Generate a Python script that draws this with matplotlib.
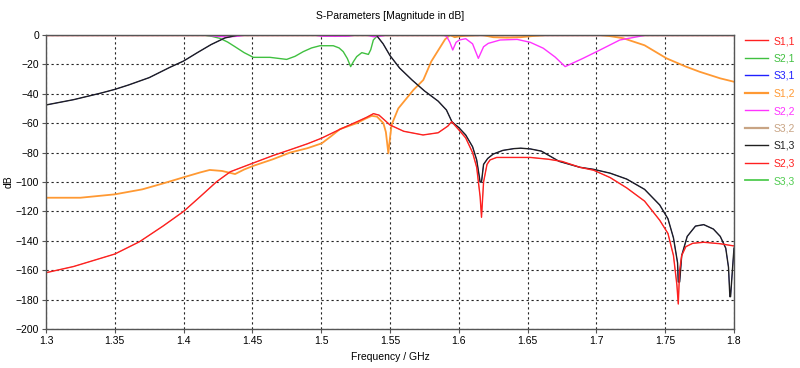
import matplotlib
matplotlib.use("Agg")
import matplotlib.pyplot as plt

plt.rcParams['font.family'] = ['Liberation Sans', 'DejaVu Sans']

# ---------------- data ----------------
title = "S-Parameters [Magnitude in dB]"
x_label = "Frequency / GHz"
y_label = "dB"
x_ticks = [1.3, 1.35, 1.4, 1.45, 1.5, 1.55, 1.6, 1.65, 1.7, 1.75, 1.8]
x_tick_labels = ["1.3", "1.35", "1.4", "1.45", "1.5", "1.55", "1.6", "1.65", "1.7", "1.75", "1.8"]
y_ticks = [0, -20, -40, -60, -80, -100, -120, -140, -160, -180, -200]

s11_f = [1.30, 1.80]
s11_db = [0, 0]

s21_f = [1.30, 1.41, 1.4143, 1.42, 1.4265, 1.432, 1.4374, 1.444, 1.4507, 1.4628, 1.4749,
         1.481, 1.487, 1.493, 1.4991, 1.5088, 1.513, 1.516, 1.519, 1.5214, 1.5235, 1.5258,
         1.5295, 1.5343, 1.536, 1.5379, 1.5405, 1.5427, 1.80]
s21_db = [0, 0, 0, -0.8, -2.3, -4.8, -8, -12, -15.2, -15.2, -16.6,
          -14.5, -11.3, -8.8, -7.3, -7.3, -8.8, -11.3, -16, -21.5, -18, -14.7,
          -12, -13.2, -10, -3.4, -0.8, 0, 0]

s12_f = [1.30, 1.325, 1.35, 1.37, 1.385, 1.40, 1.412, 1.419, 1.428, 1.4374, 1.444, 1.4507,
         1.465, 1.4773, 1.49, 1.5004, 1.507, 1.5137, 1.5258, 1.532, 1.5367, 1.5405, 1.5452,
         1.547, 1.5488, 1.5500, 1.5512, 1.556, 1.567, 1.5742, 1.58, 1.586, 1.59, 1.5936,
         1.597, 1.600, 1.605, 1.617, 1.625, 1.635, 1.645, 1.655, 1.664, 1.70, 1.7026, 1.71,
         1.7195, 1.735, 1.751, 1.765, 1.775, 1.79, 1.80]
s12_db = [-110.7, -110.7, -108.4, -105, -101, -96.8, -93.5, -91.8, -92.5, -94.6, -91.5, -89,
          -84.5, -80, -77, -73.7, -69, -64, -60, -57, -55, -55.5, -60,
          -66, -80.5, -70, -61, -50, -37.4, -30.6, -18, -9, -3, 0,
          -1.5, -1, -0.5, 0, -1.5, -1.8, -1.5, -0.6, 0, 0, 0, -0.8,
          -2.2, -7, -15.9, -21.5, -25, -29.5, -31.8]

s22_f = [1.30, 1.415, 1.425, 1.432, 1.44, 1.445, 1.495, 1.50, 1.51, 1.52, 1.525, 1.533,
         1.538, 1.543, 1.548, 1.5885, 1.5912, 1.5935, 1.5956, 1.598, 1.6004, 1.605, 1.61,
         1.6142, 1.618, 1.6214, 1.63, 1.6424, 1.652, 1.6614, 1.670, 1.6773, 1.69, 1.7026,
         1.717, 1.7366, 1.80]
s22_db = [0, 0, -1, -1.3, -0.8, 0, 0, -0.8, -0.9, -0.8, 0, 0,
          -1.2, -0.8, 0, 0, -1, -5, -10.2, -5, -3.4, -2.5, -6,
          -15.9, -8, -5.7, -3.4, -3, -5, -9, -15, -21.5, -16, -10.2,
          -3.4, 0, 0]

s13_f = [1.30, 1.32, 1.34, 1.35, 1.36, 1.375, 1.39, 1.40, 1.41, 1.42, 1.43, 1.44,
         1.54, 1.545, 1.55, 1.557, 1.566, 1.575, 1.585, 1.591, 1.595, 1.600, 1.605, 1.610,
         1.613, 1.6155, 1.6165, 1.618, 1.621, 1.625, 1.632, 1.64, 1.645, 1.652, 1.66,
         1.673, 1.688, 1.698, 1.71, 1.722, 1.735, 1.746, 1.752, 1.756, 1.759, 1.7595,
         1.7605, 1.762, 1.766, 1.772, 1.778, 1.785, 1.790, 1.794, 1.796, 1.797, 1.7975,
         1.799, 1.80]
s13_db = [-47.6, -44, -39.5, -37, -34, -29, -22, -17.7, -12, -6.5, -2, 0,
          0, -6, -14, -22.5, -30.6, -38, -45, -51, -59, -63, -68, -76,
          -85, -100, -100, -88, -84, -81, -78.5, -77.3, -77, -77.5, -79,
          -86, -90, -91.4, -94, -98, -105, -115.6, -125, -138, -155, -168,
          -168, -150, -137, -130, -129, -132, -137, -145, -158, -178, -178,
          -158, -145]

s23_f = [1.30, 1.32, 1.35, 1.368, 1.385, 1.40, 1.412, 1.424, 1.434, 1.45, 1.465, 1.477,
         1.49, 1.50, 1.514, 1.526, 1.533, 1.538, 1.542, 1.55, 1.56, 1.574, 1.585, 1.592,
         1.5948, 1.60, 1.605, 1.61, 1.613, 1.6155, 1.6165, 1.618, 1.6205, 1.6227, 1.6275,
         1.64, 1.652, 1.665, 1.675, 1.688, 1.698, 1.71, 1.722, 1.735, 1.746, 1.752, 1.756,
         1.7585, 1.7595, 1.7605, 1.762, 1.765, 1.770, 1.778, 1.79, 1.80]
s23_db = [-161.7, -157.5, -149, -140.6, -130, -120, -110, -99.8, -93, -87.3, -82, -78.2,
          -74, -70.3, -64, -59, -56, -53.5, -54.5, -61.2, -65.5, -68, -66.5, -62,
          -59, -64.5, -70, -80, -90, -110, -124, -100, -88, -85, -83.3,
          -83.3, -83.3, -84.5, -86, -90, -92, -97, -104, -113, -126, -135, -150,
          -170, -183, -160, -150, -144, -141.7, -141, -142, -143.5]

s31_f, s31_db = s13_f, s13_db
s32_f, s32_db = s23_f, s23_db
s33_f = [1.30, 1.80]
s33_db = [0, 0]

labels = ["S1,1", "S2,1", "S3,1", "S1,2", "S2,2", "S3,2", "S1,3", "S2,3", "S3,3"]
colors = ["#ff2020", "#40c040", "#2020ff", "#ff9933", "#ff33ff", "#c8a484", "#202020",
          "#ff2020", "#50cc50"]
series = [(s11_f, s11_db), (s21_f, s21_db), (s31_f, s31_db), (s12_f, s12_db),
          (s22_f, s22_db), (s32_f, s32_db), (s13_f, s13_db), (s23_f, s23_db),
          (s33_f, s33_db)]
widths = [1.0, 1.0, 0.5, 1.3, 1.0, 0.5, 1.0, 1.0, 1.3]
legend_widths = [1.0, 1.0, 1.0, 1.6, 1.0, 1.6, 1.0, 1.0, 1.3]

# ---------------- figure ----------------
fig = plt.figure(figsize=(8.0, 3.68), dpi=100)
ax = fig.add_axes([46 / 800, 1 - 329 / 368, 688 / 800, 294 / 368])

handles = []
for (f, d), lab, c, w in zip(series, labels, colors, widths):
    h, = ax.plot(f, d, color=c, lw=w, label=lab, solid_joinstyle='round')
    handles.append(h)

ax.set_xlim(1.3, 1.8)
ax.set_ylim(-200, 0)
ax.set_xticks(x_ticks)
ax.set_xticklabels(x_tick_labels)
ax.set_yticks(y_ticks)
ax.grid(True, color='#222222', linestyle=(0, (2, 2.5)), linewidth=0.8)
ax.tick_params(labelsize=7.5, length=3, width=0.8, color='#555555', pad=2)
for sp in ax.spines.values():
    sp.set_color('#555555')
    sp.set_linewidth(1.0)

fig.text(390 / 800, 1 - 16 / 368, title, ha='center', va='center', fontsize=7.5)
fig.text(390 / 800, 1 - 357 / 368, x_label, ha='center', va='center', fontsize=7.5)
fig.text(9 / 800, 1 - 182 / 368, y_label, ha='center', va='center', fontsize=7.5,
         rotation=90)

from matplotlib.lines import Line2D
leg_handles = [Line2D([], [], color=c, lw=w) for c, w in zip(colors, legend_widths)]
leg = fig.legend(handles=leg_handles, labels=labels, loc='upper left',
                 bbox_to_anchor=(745 / 800, 1 - 36 / 368), frameon=False,
                 fontsize=7.5, handlelength=2.2, handletextpad=0.55,
                 labelspacing=0.72, borderaxespad=0, borderpad=0)
for txt, c in zip(leg.get_texts(), colors):
    txt.set_color(c)

fig.savefig("out.png", dpi=100)
